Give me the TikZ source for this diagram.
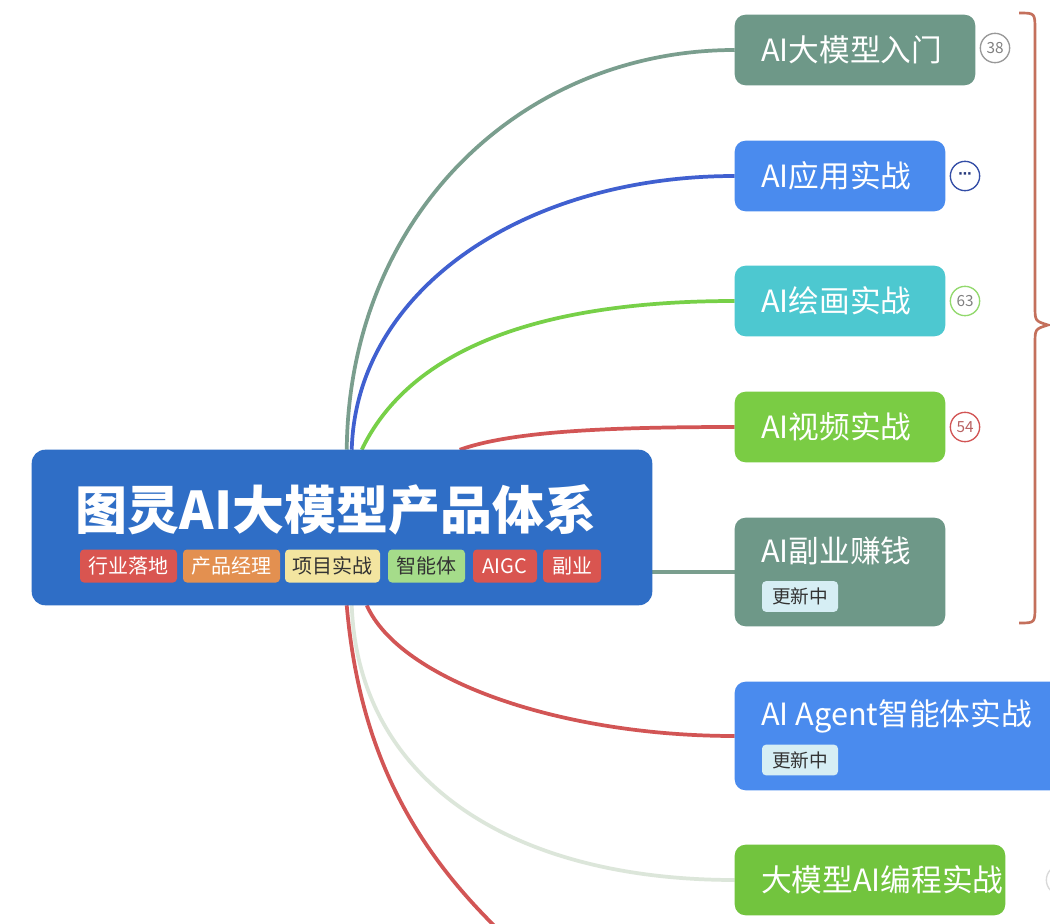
\documentclass[tikz,border=0pt]{standalone}
\usepackage{fontspec}
\setmainfont{Noto Sans CJK SC}
\newfontfamily\dejavu{DejaVu Sans}
\usetikzlibrary{calc}
\definecolor{cCentral}{HTML}{2F6EC6}
\definecolor{cGrayG}{HTML}{6E9888}
\definecolor{cBlue}{HTML}{4A8BEE}
\definecolor{cCyan}{HTML}{4DC8D0}
\definecolor{cGreen}{HTML}{7ACC44}
\definecolor{cGreenB}{HTML}{72C43E}
\definecolor{cRed}{HTML}{D95550}
\definecolor{cOrange}{HTML}{E39050}
\definecolor{cYellow}{HTML}{F3E5A0}
\definecolor{cLGreen}{HTML}{A5DC8A}
\definecolor{cTagBlue}{HTML}{D6EEF4}
\definecolor{lGrayG}{HTML}{7A9E8E}
\definecolor{lBlue}{HTML}{4060D0}
\definecolor{lGreen}{HTML}{77D048}
\definecolor{lRed}{HTML}{D25555}
\definecolor{lLight}{HTML}{DCE6DA}
\definecolor{cBrace}{HTML}{C4705C}
\definecolor{cDark}{HTML}{333333}
\begin{document}
\begin{tikzpicture}[x=0.75pt,y=-0.75pt,
  box/.style={draw=none, inner sep=0pt, minimum height=52.5pt},
  ntext/.style={anchor=west, inner sep=0pt, text=white, font=\fontsize{23pt}{24pt}\selectfont},
  tag/.style={rounded corners=3pt, inner sep=0pt, minimum height=24.75pt, font=\fontsize{15pt}{16pt}\selectfont},
  newtag/.style={rounded corners=3pt, inner sep=0pt, fill=cTagBlue, text=cDark, minimum width=57pt, minimum height=23pt, font=\fontsize{14pt}{15pt}\selectfont},
  badge/.style={circle, draw, line width=1pt, inner sep=0pt, minimum size=22pt, font=\fontsize{11.5pt}{12pt}\selectfont},
  conn/.style={line width=2.8pt}]
\useasboundingbox (0,0) rectangle (1050,924);
\clip (0,0) rectangle (1050,924);
\fill[white] (0,0) rectangle (1050,924);

% node frames (filled after the connectors)
\node[box, minimum width=465pt, minimum height=116.25pt] (c) at (342,527.5) {};
\node[box, minimum width=180pt] (n1) at (855,50) {};
\node[box, minimum width=157.5pt] (n2) at (840,176) {};
\node[box, minimum width=157.5pt] (n3) at (840,301) {};
\node[box, minimum width=157.5pt] (n4) at (840,427) {};
\node[box, minimum width=157.5pt, minimum height=81pt] (n5) at (840,572) {};
\node[box, minimum width=251.25pt, minimum height=81pt] (n6) at (902.5,736) {};
\node[box, minimum width=202.5pt] (n7) at (870,880) {};

% connectors
\coordinate (off) at (520,950);
\draw[conn, lGrayG] ($(c.north west)+(315,0)$) .. controls (349,215) and (522,50) .. (n1.west);
\draw[conn, lBlue] ($(c.north west)+(320,0)$) .. controls (356,290) and (524,176) .. (n2.west);
\draw[conn, lGreen] ($(c.north west)+(330,0)$) .. controls (400,370) and (500,301) .. (n3.west);
\draw[conn, lRed] ($(c.north west)+(428,0)$) .. controls (510,432) and (600,427) .. (n4.west);
\draw[conn, lGrayG] (c.east |- n5.west) -- (n5.west);
\draw[conn, lRed] ($(c.south west)+(335,0)$) .. controls (400,680) and (560,736) .. (n6.west);
\draw[conn, lLight] ($(c.south west)+(320,0)$) .. controls (358,780) and (510,880) .. (n7.west);
\draw[conn, lRed] ($(c.south west)+(315,0)$) .. controls (360,760) and (420,860) .. (off);

% box fills
\fill[cCentral, rounded corners=10pt] (c.north west) rectangle (c.south east);
\fill[cGrayG, rounded corners=8pt] (n1.north west) rectangle (n1.south east);
\fill[cBlue, rounded corners=8pt] (n2.north west) rectangle (n2.south east);
\fill[cCyan, rounded corners=8pt] (n3.north west) rectangle (n3.south east);
\fill[cGreen, rounded corners=8pt] (n4.north west) rectangle (n4.south east);
\fill[cGrayG, rounded corners=8pt] (n5.north west) rectangle (n5.south east);
\fill[cBlue, rounded corners=8pt] (n6.north west) rectangle (n6.south east);
\fill[cGreenB, rounded corners=8pt] (n7.north west) rectangle (n7.south east);

% central texts
\node[inner sep=0pt, text=white, font=\bfseries\fontsize{39pt}{40pt}\selectfont] (title) at (336,510) {图灵AI大模型产品体系};
\node[tag, fill=cRed, text=white, minimum width=72.75pt] (g1) at (128.5,566) {行业落地};
\node[tag, fill=cOrange, text=white, minimum width=72.75pt] (g2) at (231.5,566) {产品经理};
\node[tag, fill=cYellow, text=cDark, minimum width=71.25pt] (g3) at (332.5,566) {项目实战};
\node[tag, fill=cLGreen, text=cDark, minimum width=57.75pt] (g4) at (426.5,566) {智能体};
\node[tag, fill=cRed, text=white, minimum width=48pt] (g5) at (505,566) {AIGC};
\node[tag, fill=cRed, text=white, minimum width=43.5pt] (g6) at (572,566) {副业};

% right texts
\node[ntext] (t1) at (761,50) {AI大模型入门};
\node[ntext] (t2) at (761,176) {AI应用实战};
\node[ntext] (t3) at (761,301) {AI绘画实战};
\node[ntext] (t4) at (761,427) {AI视频实战};
\node[ntext] (t5) at (761,551) {AI副业赚钱};
\node[newtag] (u5) at (800,596.5) {更新中};
\node[ntext] (t6) at (761,716) {AI Agent智能体实战};
\node[newtag] (u6) at (800,760) {更新中};
\node[ntext] (t7) at (761,880) {大模型AI编程实战};

% badges
\node[badge, draw=gray!80, text=gray] (b1) at (995,48) {38};
\node[badge, draw=lBlue!80!black, text=lBlue!60!black, font=\dejavu\bfseries\fontsize{10pt}{10pt}\selectfont] (b2) at (965,176) {⋯};
\node[badge, draw=lGreen!80, text=gray] (b3) at (965,301) {63};
\node[badge, draw=lRed, text=lRed!70!gray] (b4) at (965,427) {54};
\node[badge, draw=gray!30] (b7) at (1061,880) {};

% brace
\draw[cBrace, line width=2pt] (1019,13) .. controls (1035,13) .. (1035,30) -- (1035,306)
  .. controls (1035,321) .. (1048,325) .. controls (1035,329) .. (1035,344) -- (1035,606)
  .. controls (1035,623) .. (1019,623);
\end{tikzpicture}
\end{document}
